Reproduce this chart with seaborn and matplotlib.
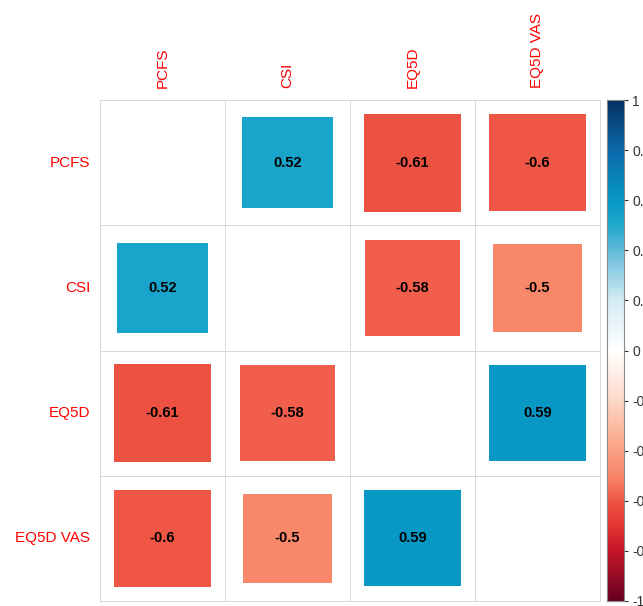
import numpy as np
import pandas as pd
import matplotlib.pyplot as plt
import seaborn as sns
from matplotlib.colors import LinearSegmentedColormap
from matplotlib.patches import Rectangle

labels = ['PCFS', 'CSI', 'EQ5D', 'EQ5D VAS']
pcfs = [1.0, 0.52, -0.61, -0.6]
csi = [0.52, 1.0, -0.58, -0.5]
eq5d = [-0.61, -0.58, 1.0, 0.59]
eq5d_vas = [-0.6, -0.5, 0.59, 1.0]

corr = pd.DataFrame([pcfs, csi, eq5d, eq5d_vas], index=labels, columns=labels)

# palette sampled from the reference colour bar (value, colour)
stops = [(-1, '#67001F'), (-0.8, '#C8152A'), (-0.7, '#E2352F'), (-0.6, '#EF5646'),
         (-0.5, '#F9876A'), (-0.4, '#FBA083'), (-0.2, '#FDD7C6'), (0, '#FFFFFF'),
         (0.2, '#D5EBF3'), (0.4, '#62BBD9'), (0.5, '#1EA9CD'), (0.6, '#0697C5'),
         (0.8, '#0B69AB'), (1, '#053061')]
cmap = LinearSegmentedColormap.from_list('corr', [((v + 1) / 2, c) for v, c in stops])

plt.rcParams['font.family'] = ['Liberation Sans', 'DejaVu Sans']
fig = plt.figure(figsize=(6.43, 6.06), dpi=100)
ax = fig.add_axes([100 / 643, 5 / 606, 500 / 643, 501 / 606])
cax = fig.add_axes([607 / 643, 5 / 606, 17 / 643, 501 / 606])

blank = np.zeros(corr.shape)
sns.heatmap(blank, cmap=cmap, vmin=-1, vmax=1, linewidths=0.7, linecolor='#D9D9D9',
            cbar_ax=cax, ax=ax, xticklabels=labels, yticklabels=labels)

n = len(labels)
for i in range(n):
    for j in range(n):
        if i == j:
            continue
        r = corr.iloc[i, j]
        side = np.sqrt(abs(r))
        ax.add_patch(Rectangle((j + 0.5 - side / 2, i + 0.5 - side / 2), side, side,
                               facecolor=cmap((r + 1) / 2), edgecolor='none'))
        ax.text(j + 0.5, i + 0.5, f'{r:g}', ha='center', va='center',
                fontsize=10.5, fontweight='bold', color='black')

ax.xaxis.tick_top()
ax.tick_params(axis='x', length=0, pad=8.5)
ax.tick_params(axis='y', length=0, pad=7)
ax.set_xticklabels(labels, rotation=90, color='red', fontsize=11)
ax.set_yticklabels(labels, rotation=0, color='red', fontsize=11)
for s in ax.spines.values():
    s.set_visible(True)
    s.set_color('#D9D9D9')
    s.set_linewidth(0.7)

cax.set_yticks(np.arange(-1, 1.01, 0.2))
cax.set_yticklabels(['-1', '-0.8', '-0.6', '-0.4', '-0.2', '0', '0.2', '0.4', '0.6', '0.8', '1'])
cax.tick_params(length=3, width=0.8, labelsize=10, pad=3, colors='#333333')
for s in cax.spines.values():
    s.set_visible(True)
    s.set_color('#888888')

fig.savefig('out.png', dpi=100)
